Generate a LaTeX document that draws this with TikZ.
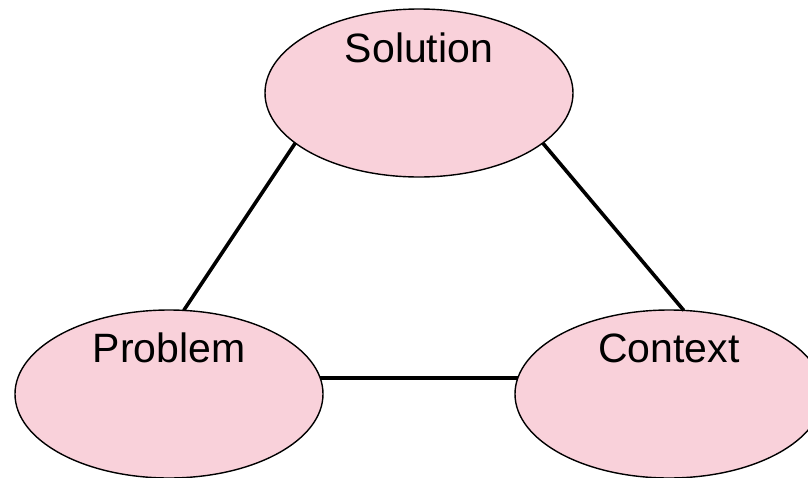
\documentclass[tikz,border=0pt]{standalone}
\usepackage{fontspec}
\setmainfont{Liberation Sans}
\usetikzlibrary{shapes.geometric}
\definecolor{blobpink}{RGB}{249,209,218}
\begin{document}
\begin{tikzpicture}[x=1pt,y=1pt,
  blob/.style={ellipse,draw=black,line width=1.4pt,fill=blobpink,inner sep=0pt,outer sep=0pt,minimum width=308pt,minimum height=168pt},
  lbl/.style={anchor=base,inner sep=0pt,font=\fontsize{41}{48}\selectfont},
  link/.style={draw=black,line width=3.6pt}]
\useasboundingbox (0,0) rectangle (808,-477);
\node[blob] (sol) at (419,-93) {};
\node[blob] (prob) at (169,-394) {};
\node[blob] (ctx) at (669,-394) {};
\node[lbl] (solt) at ([yshift=31pt]sol.center) {Solution};
\node[lbl] (probt) at ([yshift=32pt]prob.center) {Problem};
\node[lbl] (ctxt) at ([yshift=32pt]ctx.center) {Context};
\draw[link] (sol.202) -- (prob.80);
\draw[link] (sol.338) -- (ctx.80);
\draw[link] (prob.6) -- (ctx.174);
\end{tikzpicture}
\end{document}
